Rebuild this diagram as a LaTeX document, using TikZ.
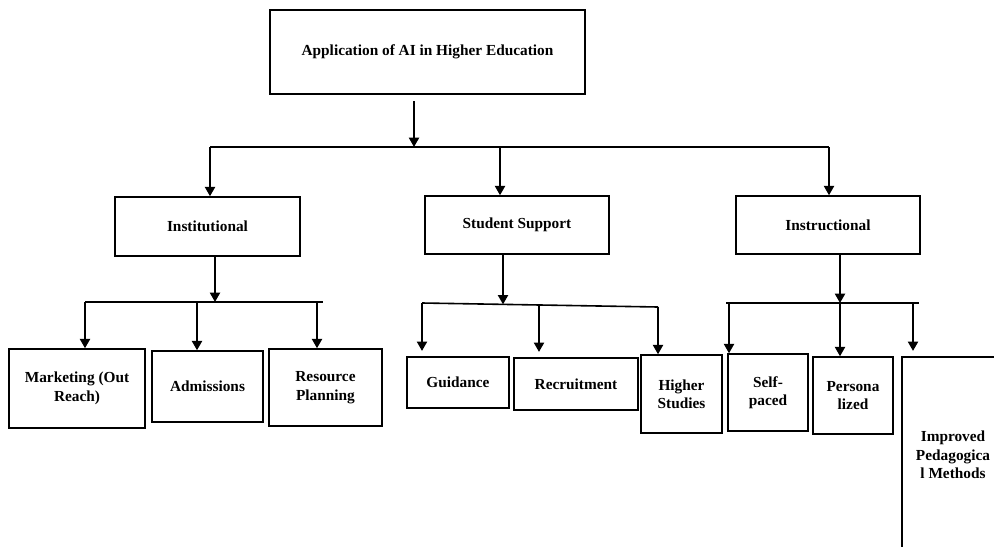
\documentclass[tikz,border=0pt]{standalone}
\usepackage{fontspec}
\setmainfont{Liberation Serif}
\usetikzlibrary{arrows.meta}

\begin{document}
\begin{tikzpicture}[x=0.75pt,y=-0.75pt,
  box/.style={draw=black,line width=1.1pt,align=center,inner sep=0pt,
    font=\bfseries\fontsize{11.5}{13.8}\selectfont},
  arr/.style={line width=1.5pt,-{Triangle[width=7.5pt,length=7pt]}},
  bus/.style={line width=1.2pt}]
\clip (0,0) rectangle (994,546);
% top level
\node[box,minimum width=236pt,minimum height=63pt] (app) at (427.5,52) {Application of AI in Higher Education};
\node[box,minimum width=138.75pt,minimum height=44.25pt] (inst) at (207.5,226.5) {Institutional};
\node[box,minimum width=138pt,minimum height=43.5pt] (stud) at (517,225) {Student Support};
\node[box,minimum width=138pt,minimum height=43.5pt] (instr) at (828,225) {Instructional};
% institutional branch
\node[box,minimum width=102pt,minimum height=59.25pt] (mkt) at (77,388.5) {Marketing (Out\\Reach)};
\node[box,minimum width=83.25pt,minimum height=53.25pt] (adm) at (207.5,386.5) {Admissions};
\node[box,minimum width=84.75pt,minimum height=57.75pt] (res) at (325.5,387.5) {Resource\\Planning};
% student support branch
\node[box,minimum width=76.5pt,minimum height=38.25pt] (guid) at (458,382.5) {Guidance};
\node[box,minimum width=93pt,minimum height=39pt] (recr) at (576,384) {Recruitment};
\node[box,minimum width=60.75pt,minimum height=58.5pt] (high) at (681.5,394) {Higher\\Studies};
% instructional branch
\node[box,minimum width=60pt,minimum height=57.75pt] (self) at (768,392.5) {Self-\\paced};
\node[box,minimum width=60pt,minimum height=57.75pt] (pers) at (853,395.5) {Persona\\lized};
\node[box,minimum width=76.5pt,minimum height=147pt] (impr) at (953,455) {Improved\\Pedagogica\\l Methods};

% bus under the title
\coordinate (t0) at (414,147);
\coordinate (tl) at (210,147);
\coordinate (tm) at (500,147);
\coordinate (tr) at (829,147);
\draw[bus] (tl) -- (tr);
\draw[arr,shorten <=5pt] (app.south -| t0) -- (t0);
\draw[arr] (tl) -- (inst.north -| tl);
\draw[arr] (tm) -- (stud.north -| tm);
\draw[arr] (tr) -- (instr.north -| tr);

% bus under institutional
\coordinate (i0) at (215,302);
\coordinate (il) at (85,302);
\coordinate (im) at (197,302);
\coordinate (ir) at (317,302);
\coordinate (ie) at (323,302);
\draw[bus] (il) -- (ie);
\draw[arr] (inst.south -| i0) -- (i0);
\draw[arr] (il) -- (mkt.north -| il);
\draw[arr] (im) -- (adm.north -| im);
\draw[arr] (ir) -- (res.north -| ir);

% bus under student support
\coordinate (s0) at (503,304.4);
\coordinate (sl) at (422,303);
\coordinate (sm) at (539,305);
\coordinate (sr) at (658,307);
\draw[bus] (sl) -- (sr);
\draw[arr] (stud.south -| s0) -- (s0);
\draw[arr,shorten >=4pt] (sl) -- (guid.north -| sl);
\draw[arr,shorten >=4pt] (sm) -- (recr.north -| sm);
\draw[arr] (sr) -- (high.north -| sr);

% bus under instructional
\coordinate (n0) at (840,303);
\coordinate (ns) at (726,303);
\coordinate (nl) at (729,303);
\coordinate (nr) at (913,303);
\coordinate (ne) at (919,303);
\draw[bus] (ns) -- (ne);
\draw[arr] (instr.south -| n0) -- (n0);
\draw[arr] (nl) -- (self.north -| nl);
\draw[arr] (n0) -- (pers.north -| n0);
\draw[arr,shorten >=4pt] (nr) -- (impr.north -| nr);
\end{tikzpicture}
\end{document}
